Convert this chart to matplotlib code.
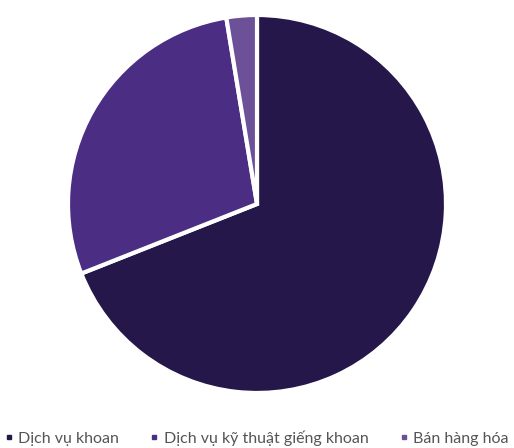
import matplotlib.pyplot as plt
from matplotlib.lines import Line2D

labels = ["Dịch vụ khoan", "Dịch vụ kỹ thuật giếng khoan", "Bán hàng hóa"]
values = [69.0, 28.4, 2.6]
colors = ["#25174a", "#4b2e83", "#6c5199"]

plt.rcParams['font.family'] = ['Lato', 'DejaVu Sans']

fig = plt.figure(figsize=(5.14, 4.48), dpi=100)
ax = fig.add_axes([0.1323, 0.1228, 0.7354, 0.84375])
ax.pie(values, colors=colors, startangle=90, counterclock=False,
       wedgeprops=dict(edgecolor="white", linewidth=3))
ax.set_aspect("equal")
ax.set_xlim(-1, 1)
ax.set_ylim(-1, 1)

handles = [Line2D([0], [0], marker="s", linestyle="", markersize=3.5,
                  markerfacecolor=c, markeredgecolor=c) for c in colors]
fig.legend(handles, labels, loc="center", bbox_to_anchor=(0.5, 0.022),
           ncol=3, frameon=False, fontsize=11.5, handlelength=0.4,
           handletextpad=0.4, columnspacing=2.0, labelcolor="#555555",
           borderpad=0, borderaxespad=0)

fig.savefig("out.png", dpi=100)
